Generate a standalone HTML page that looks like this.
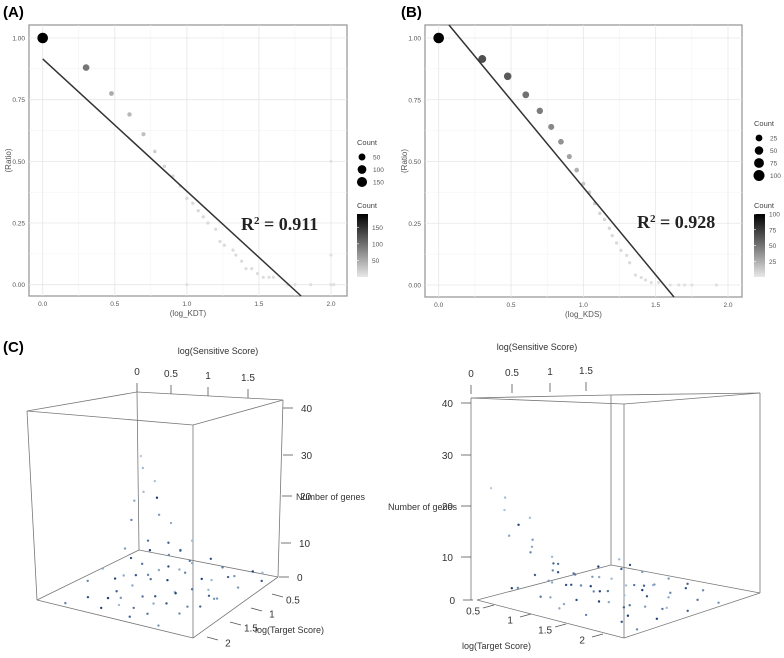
<!DOCTYPE html>
<html><head><meta charset="utf-8"><style>
html,body{margin:0;padding:0;background:#fff;}
svg{display:block;font-family:"Liberation Sans",sans-serif;}
</style></head><body>
<svg id="fig" width="784" height="658" viewBox="0 0 784 658">
<defs>
<linearGradient id="cbar" x1="0" y1="0" x2="0" y2="1"><stop offset="0" stop-color="#000"/><stop offset="1" stop-color="#e8e8e8"/></linearGradient>
</defs>
<text x="3" y="17" font-size="15" font-weight="bold">(A)</text>
<text x="401" y="17" font-size="15" font-weight="bold">(B)</text>
<text x="3" y="352" font-size="15" font-weight="bold">(C)</text>
<g id="pa"></g>
<g id="pb"></g>
<g id="c1"></g>
<g id="c2"></g>
</svg>
<script>
// Panel A data
const aX=[0,0.301,0.477,0.602,0.699,0.778,0.845,0.903,0.954,1.0,1.041,1.079,1.114,1.146,1.2,1.23,1.26,1.32,1.34,1.38,1.41,1.45,1.49,1.53,1.57,1.6,1.7,1.75,1.86,2.0,2.02,1.0,2.0,2.0];
const aY=[1.0,0.88,0.775,0.69,0.61,0.54,0.48,0.44,0.40,0.35,0.33,0.30,0.275,0.25,0.225,0.175,0.16,0.14,0.12,0.095,0.065,0.065,0.045,0.03,0.03,0.03,0.0,0.0,0.0,0.0,0.0,0.0,0.5,0.12];
const aCount=[190,90,45,35,28,15,10,9,8,8,7,7,6,6,6,5,5,5,4,4,4,4,3,3,3,3,2,2,2,2,1,1,1,1];
const aFit=[0.915,-0.536];
// Panel B data
const bX=[0,0.301,0.477,0.602,0.699,0.778,0.845,0.903,0.954,1.0,1.041,1.079,1.114,1.146,1.18,1.2,1.23,1.26,1.3,1.32,1.36,1.4,1.43,1.47,1.52,1.6,1.66,1.7,1.75,1.92];
const bY=[1.0,0.915,0.845,0.77,0.705,0.64,0.58,0.52,0.465,0.41,0.375,0.33,0.29,0.265,0.23,0.2,0.17,0.14,0.12,0.09,0.04,0.03,0.02,0.01,0.01,0,0,0,0,0];
const bCount=[100,65,60,50,45,40,35,28,22,12,10,8,6,5,5,4,4,3,3,3,2,2,2,1,1,1,1,1,1,1];
const bFit=[1.103,-0.708];
const xTicks=[0,0.5,1.0,1.5,2.0];
const xTickLabels=["0.0","0.5","1.0","1.5","2.0"];
const yTicks=[0,0.25,0.5,0.75,1.0];
const yTickLabels=["0.00","0.25","0.50","0.75","1.00"];
// Panel C data (sensitive, target, genes, shade)
const cS=[0.1,0.2,0.3,0.15,0.35,0.4,0.5,0.25,0.6,0.55,0.7,0.3,0.8,0.9,0.45,1.0,0.2,
0.3,0.5,0.7,0.9,1.1,1.3,1.5,1.7,1.9,0.4,0.6,0.8,1.0,1.2,1.4,1.6,1.8,0.35,0.55,0.75,0.95,1.15,1.35,1.55,1.75,0.5,0.7,0.9,1.1,1.3,1.5,1.7,0.6,0.8,1.0,1.2,1.4,1.6,0.7,0.9,1.1,1.3,1.5,0.2,0.4,1.05,1.25,0.85,1.45,0.65,1.65,1.95,0.3];
const cT=[0.4,0.5,0.4,0.6,0.7,0.5,0.6,0.8,0.5,0.9,0.7,1.0,0.6,0.5,1.1,0.7,1.3,
0.5,0.4,0.45,0.5,0.4,0.45,0.5,0.4,0.5,0.8,0.75,0.85,0.8,0.75,0.85,0.8,0.9,1.1,1.15,1.2,1.1,1.25,1.2,1.15,1.3,1.5,1.45,1.55,1.6,1.5,1.55,1.6,1.8,1.85,1.9,1.8,1.85,1.9,2.1,2.05,2.15,2.1,2.2,1.6,1.9,1.0,1.4,1.3,1.0,1.7,1.2,0.6,2.2];
const cZ=[22,20,17,13,16,14,11,10,9,7,6,5,4,6,4,3,2,
2,1,3,1,2,1,0,1,2,1,0,2,1,0,1,2,1,0,1,2,1,0,1,0,1,2,1,0,1,2,0,1,0,1,0,1,2,1,0,1,0,1,0,1,0,3,1,2,0,1,0,1,0];
const cShade=[0.1,0.2,0.15,0.3,0.2,0.9,0.4,0.5,0.3,0.6,0.7,0.4,0.5,0.2,0.8,0.6,0.3,
0.9,0.5,0.7,0.3,0.8,0.6,0.4,0.9,0.2,0.6,0.3,0.8,0.5,0.9,0.2,0.7,0.4,0.3,0.8,0.5,0.9,0.2,0.6,0.7,0.4,0.9,0.3,0.6,0.8,0.2,0.5,0.7,0.9,0.4,0.6,0.3,0.8,0.5,0.9,0.2,0.7,0.6,0.4,0.5,0.8,0.3,0.9,0.6,0.2,0.7,0.4,0.8,0.5];

const NS='http://www.w3.org/2000/svg';
function mk(tag,attrs,parent,txt){const e=document.createElementNS(NS,tag);for(const k in attrs)e.setAttribute(k,attrs[k]);if(txt!==undefined)e.textContent=txt;parent.appendChild(e);return e;}
function grey(c,max){const v=Math.round(225-225*Math.min(c,max)/max);return 'rgb('+v+','+v+','+v+')';}
function rad(c,max){return 1.5+3.8*c/max;}

function scatterPanel(g,cfg,X,Y,C,fit){
  const sx=v=>cfg.x0+(cfg.x2-cfg.x0)*v/2, sy=v=>cfg.y0-(cfg.y0-cfg.y1)*v;
  const fr=mk('rect',{x:cfg.L,y:cfg.T,width:cfg.R-cfg.L,height:cfg.B-cfg.T,fill:'#fff',stroke:'#9a9a9a','stroke-width':1.3},g);
  
  for(let i=0;i<4;i++){const v=0.25+i*0.5;
    const l=mk('line',{x1:sx(v),x2:sx(v),y1:cfg.T,y2:cfg.B,stroke:'#f3f3f3','stroke-width':0.6},g);}
  for(let i=0;i<4;i++){const v=0.125+i*0.25;
    const l=mk('line',{x1:cfg.L,x2:cfg.R,y1:sy(v),y2:sy(v),stroke:'#f3f3f3','stroke-width':0.6},g);}
  xTicks.forEach((v,i)=>{
    const l=mk('line',{x1:sx(v),x2:sx(v),y1:cfg.T,y2:cfg.B,stroke:'#e6e6e6','stroke-width':0.8},g);
    const t=mk('text',{x:sx(v),y:cfg.B+10,'font-size':6.5,fill:'#555','text-anchor':'middle'},g,xTickLabels[i]);});
  yTicks.forEach((v,i)=>{
    const l=mk('line',{x1:cfg.L,x2:cfg.R,y1:sy(v),y2:sy(v),stroke:'#e6e6e6','stroke-width':0.8},g);
    const t=mk('text',{x:cfg.L-4,y:sy(v)+2.5,'font-size':6.5,fill:'#555','text-anchor':'end'},g,yTickLabels[i]);});
  const xt=mk('text',{x:(cfg.L+cfg.R)/2,y:cfg.B+20,'font-size':8,fill:'#555','text-anchor':'middle'},g,cfg.xlab);
  const yt=mk('text',{x:0,y:0,'font-size':8,fill:'#555','text-anchor':'middle',transform:'translate('+(cfg.L-18)+','+((cfg.T+cfg.B)/2)+') rotate(-90)'},g,'(Ratio)');
  for(let i=X.length-1;i>=0;i--){
    const p=mk('circle',{cx:sx(X[i]),cy:sy(Y[i]),r:rad(C[i],cfg.cmax),fill:grey(C[i],cfg.cmax)},g);
    }
  const ya=cfg.T, yb=cfg.B; const vTop=(cfg.y0-ya)/(cfg.y0-cfg.y1), vBot=(cfg.y0-yb)/(cfg.y0-cfg.y1);
  let xs=(vTop-fit[0])/fit[1]; if(xs<0)xs=0; const xe=(vBot-fit[0])/fit[1];
  const ln=mk('line',{x1:sx(xs),y1:sy(fit[0]+fit[1]*xs),x2:sx(xe),y2:sy(fit[0]+fit[1]*xe),stroke:'#333','stroke-width':1.5},g);
  
  const r2=mk('text',{x:cfg.r2x,y:cfg.r2y,'font-size':18,'font-weight':'bold','font-family':'Liberation Serif, serif',fill:'#222'},g);
  
  r2.innerHTML='R<tspan font-size="11" dy="-6">2</tspan><tspan dy="6"> = '+cfg.r2+'</tspan>';
  const lg=mk('g',{},g);
  mk('text',{x:cfg.lx,y:cfg.ly,'font-size':7.5,fill:'#444'},lg,'Count');
  cfg.sizeVals.forEach((v,i)=>{const yy=cfg.ly+12+i*12.5;
    const c=mk('circle',{cx:cfg.lx+5,cy:yy,r:1.3+Math.sqrt(v/cfg.cmax)*4.2,fill:'#000'},lg);
    mk('text',{x:cfg.lx+16,y:yy+2.5,'font-size':6.5,fill:'#555'},lg,String(v));});
  const cg=mk('g',{},g);
  mk('text',{x:cfg.lx,y:208,'font-size':7.5,fill:'#444'},cg,'Count');
  mk('rect',{x:cfg.lx,y:214,width:11,height:63,fill:'url(#cbar)'},cg);
  cfg.colVals.forEach(v=>{const yy=277-63*v/cfg.cmax;
    mk('line',{x1:cfg.lx,x2:cfg.lx+2,y1:yy,y2:yy,stroke:'#fff','stroke-width':0.6},cg);
    mk('text',{x:cfg.lx+15,y:yy+2.5,'font-size':6.5,fill:'#555'},cg,String(v));});
}
scatterPanel(document.getElementById('pa'),{L:29,R:347,T:25,B:296,x0:42.7,x2:331,y0:284.7,y1:38,xlab:'(log_KDT)',cmax:190,r2:'0.911',r2x:241,r2y:230,lx:357,ly:145,sizeVals:[50,100,150],colVals:[50,100,150]},aX,aY,aCount,aFit);
scatterPanel(document.getElementById('pb'),{L:425,R:742,T:25,B:297,x0:438.7,x2:728,y0:285,y1:38,xlab:'(log_KDS)',cmax:100,r2:'0.928',r2x:637,r2y:228,lx:754,ly:126,sizeVals:[25,50,75,100],colVals:[25,50,75,100]},bX,bY,bCount,bFit);

function blue(s){const a=[198,219,239],b=[8,48,107];return 'rgb('+a.map((v,i)=>Math.round(v+(b[i]-v)*s)).join(',')+')';}
function box3d(g,cfg){
  cfg.edges.forEach(e=>{const l=mk('line',{x1:e[0],y1:e[1],x2:e[2],y2:e[3],stroke:'#777','stroke-width':0.8},g);});
  cfg.sTicks.forEach(t=>{mk('line',{x1:t[0],y1:t[1],x2:t[0],y2:t[1]-9,stroke:'#555','stroke-width':0.8},g);
    const tx=mk('text',{x:t[0],y:t[1]-17,'font-size':10,fill:'#333','text-anchor':'middle'},g,t[2]);});
  cfg.zTicks.forEach(t=>{mk('line',{x1:t[0],y1:t[1],x2:t[0]+cfg.zdir*10,y2:t[1],stroke:'#555','stroke-width':0.8},g);
    const tx=mk('text',{x:t[0]+cfg.zdir*18,y:t[1]+4,'font-size':10,fill:'#333','text-anchor':cfg.zdir>0?'start':'end'},g,t[2]);});
  cfg.tTicks.forEach(t=>{mk('line',{x1:t[0],y1:t[1],x2:t[0]+cfg.tdx,y2:t[1]+cfg.tdy,stroke:'#555','stroke-width':0.8},g);
    const tx=mk('text',{x:t[0]+cfg.tdx*1.9,y:t[1]+cfg.tdy*1.9+4,'font-size':10,fill:'#333','text-anchor':'middle'},g,t[2]);});
  cfg.titles.forEach(t=>{const tx=mk('text',{x:t[0],y:t[1],'font-size':9,fill:'#333','text-anchor':t[3]},g,t[2]);});
  const C=cfg.corners;
  for(let i=0;i<cS.length;i++){
    const u=cS[i]/2, v=(cT[i]-0.3)/2;
    const px=C[0][0]*(1-u)*(1-v)+C[1][0]*u*(1-v)+C[2][0]*(1-u)*v+C[3][0]*u*v;
    const py=C[0][1]*(1-u)*(1-v)+C[1][1]*u*(1-v)+C[2][1]*(1-u)*v+C[3][1]*u*v;
    const h=cfg.h0+cfg.h1*v;
    const p=mk('circle',{cx:px,cy:py-cZ[i]*h,r:1.2,fill:blue(cShade[i])},g);
    }
}
box3d(document.getElementById('c1'),{
  edges:[[137,392,283,400],[137,392,27,411],[27,411,193,425],[193,425,283,400],[27,411,37,600],[193,425,193,638],[283,400,278,577],[137,392,139,550],[37,600,193,638],[193,638,278,577],[37,600,139,550],[139,550,278,577]],
  sTicks:[[137,392,'0'],[171,394,'0.5'],[208,396,'1'],[248,398,'1.5']],
  zTicks:[[283,408,'40'],[283,455,'30'],[282,496,'20'],[281,543,'10'],[279,577,'0']],zdir:1,
  tTicks:[[272,594,'0.5'],[251,608,'1'],[230,622,'1.5'],[207,637,'2']],tdx:11,tdy:3,
  titles:[[218,354,'log(Sensitive Score)','middle','sensitive-axis-title'],[296,500,'Number of genes','start','genes-axis-title'],[255,633,'log(Target Score)','start','target-axis-title']],
  corners:[[139,550],[278,577],[37,600],[193,638]],h0:4.4,h1:0.9});
box3d(document.getElementById('c2'),{
  edges:[[471,398,624,404],[611,395,760,393],[471,398,611,395],[624,404,760,393],[471,398,471,600],[624,404,624,638],[760,393,760,593],[611,395,611,565],[477,600,624,638],[624,638,760,593],[477,600,611,565],[611,565,760,593]],
  sTicks:[[471,394,'0'],[512,393,'0.5'],[550,392,'1'],[586,391,'1.5']],
  zTicks:[[471,403,'40'],[471,455,'30'],[471,506,'20'],[471,557,'10'],[473,600,'0']],zdir:-1,
  tTicks:[[494,605,'0.5'],[531,614,'1'],[566,624,'1.5'],[603,634,'2']],tdx:-11,tdy:3,
  titles:[[537,350,'log(Sensitive Score)','middle','sensitive-axis-title'],[457,510,'Number of genes','end','genes-axis-title'],[462,649,'log(Target Score)','start','target-axis-title']],
  corners:[[477,600],[611,565],[624,638],[760,593]],h0:5.05,h1:0.8});
</script>
</body></html>
